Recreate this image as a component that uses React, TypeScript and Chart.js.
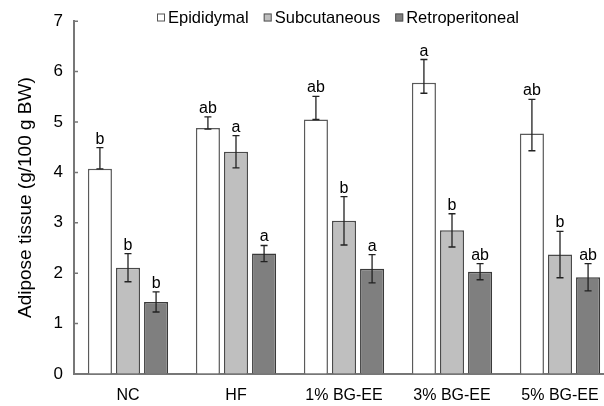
import React, { useEffect, useRef } from 'react';
import { Chart, registerables } from 'chart.js';

Chart.register(...registerables);

const FONT = '"Liberation Sans", Arial, Helvetica, sans-serif';

const categories = ['NC', 'HF', '1% BG-EE', '3% BG-EE', '5% BG-EE'];
const seriesNames = ['Epididymal', 'Subcutaneous', 'Retroperitoneal'];

const epididymal = [4.07, 4.88, 5.05, 5.78, 4.77];
const epididymalPlus = [0.42, 0.22, 0.46, 0.46, 0.68];
const epididymalMinus = [0.0, 0.02, 0.0, 0.21, 0.34];
const epididymalLetters = ['b', 'ab', 'ab', 'a', 'ab'];

const subcutaneous = [2.11, 4.41, 3.04, 2.85, 2.37];
const subcutaneousErr = [0.28, 0.32, 0.48, 0.33, 0.46];
const subcutaneousLetters = ['b', 'a', 'b', 'b', 'b'];

const retroperitoneal = [1.43, 2.39, 2.09, 2.03, 1.92];
const retroperitonealErr = [0.2, 0.16, 0.28, 0.16, 0.27];
const retroperitonealLetters = ['b', 'a', 'a', 'ab', 'ab'];

const yTicks = [0, 1, 2, 3, 4, 5, 6, 7];

const fills = ['#ffffff', '#bfbfbf', '#7f7f7f'];
const borders = ['#5a5a5a', '#4a4a4a', '#3a3a3a'];

export default function App() {
  const ref = useRef<HTMLCanvasElement>(null);

  useEffect(() => {
    document.body.style.margin = '0';
    document.body.style.overflow = 'hidden';
    if (!ref.current) return;

    const values = [epididymal, subcutaneous, retroperitoneal];
    const plus = [epididymalPlus, subcutaneousErr, retroperitonealErr];
    const minus = [epididymalMinus, subcutaneousErr, retroperitonealErr];
    const letters = [epididymalLetters, subcutaneousLetters, retroperitonealLetters];

    const extras = {
      id: 'extras',
      afterDatasetsDraw(chart: any) {
        const ctx = chart.ctx as CanvasRenderingContext2D;
        const y = chart.scales.y;
        const area = chart.chartArea;
        ctx.save();
        // error bars and letters
        chart.data.datasets.forEach((_ds: any, di: number) => {
          const meta = chart.getDatasetMeta(di);
          meta.data.forEach((bar: any, i: number) => {
            const v = values[di][i];
            const top = y.getPixelForValue(v + plus[di][i]);
            const bot = y.getPixelForValue(v - minus[di][i]);
            const x = bar.x;
            ctx.strokeStyle = '#222';
            ctx.lineWidth = 1.3;
            ctx.beginPath();
            ctx.moveTo(x, top);
            ctx.lineTo(x, bot);
            ctx.moveTo(x - 3.5, top);
            ctx.lineTo(x + 3.5, top);
            ctx.moveTo(x - 3.5, bot);
            ctx.lineTo(x + 3.5, bot);
            ctx.stroke();
            ctx.fillStyle = '#000';
            ctx.font = `16px ${FONT}`;
            ctx.textAlign = 'center';
            ctx.textBaseline = 'alphabetic';
            ctx.fillText(letters[di][i], x, top - 4);
          });
        });
        // inside tick marks on y axis
        ctx.strokeStyle = '#777';
        ctx.lineWidth = 1.5;
        ctx.beginPath();
        yTicks.forEach((t) => {
          const py = y.getPixelForValue(t);
          ctx.moveTo(area.left, py);
          ctx.lineTo(area.left + 4, py);
        });
        ctx.stroke();
        // legend
        ctx.font = `16.5px ${FONT}`;
        ctx.textAlign = 'left';
        ctx.textBaseline = 'middle';
        let lx = 157;
        const ly = 18;
        seriesNames.forEach((name, di) => {
          ctx.fillStyle = fills[di];
          ctx.fillRect(lx, ly - 4.5, 8, 8);
          ctx.strokeStyle = '#555';
          ctx.lineWidth = 1;
          ctx.strokeRect(lx + 0.5, ly - 4, 7, 7);
          ctx.fillStyle = '#000';
          ctx.fillText(name, lx + 11, ly);
          lx += 11 + ctx.measureText(name).width + 15;
        });
        ctx.restore();
      },
    };

    const chart = new Chart(ref.current, {
      type: 'bar',
      data: {
        labels: categories,
        datasets: [
          {
            label: seriesNames[0],
            data: epididymal,
            backgroundColor: fills[0],
            borderColor: borders[0],
            borderWidth: 1.5,
          },
          {
            label: seriesNames[1],
            data: subcutaneous,
            backgroundColor: fills[1],
            borderColor: borders[1],
            borderWidth: 1.5,
          },
          {
            label: seriesNames[2],
            data: retroperitoneal,
            backgroundColor: fills[2],
            borderColor: borders[2],
            borderWidth: 1.5,
          },
        ],
      },
      options: {
        animation: false,
        responsive: true,
        maintainAspectRatio: false,
        layout: { padding: { top: 16, right: 6, left: 0, bottom: 0 } },
        plugins: {
          legend: { display: false },
          tooltip: { enabled: false },
        },
        datasets: {
          bar: { categoryPercentage: 0.78, barPercentage: 0.857 },
        },
        scales: {
          x: {
            grid: { display: true, drawOnChartArea: false, drawTicks: false },
            border: { display: true, color: '#777', width: 2 },
            ticks: { color: '#000', font: { family: FONT, size: 16 }, padding: 12, maxRotation: 0 },
            afterFit: (s: any) => {
              s.height = 32;
            },
          },
          y: {
            min: 0,
            max: 7,
            grid: { display: true, drawOnChartArea: false, drawTicks: false },
            border: { display: true, color: '#777', width: 2 },
            ticks: { stepSize: 1, color: '#000', font: { family: FONT, size: 17 }, padding: 11 },
            title: {
              display: true,
              text: 'Adipose tissue (g/100 g BW)',
              color: '#000',
              font: { family: FONT, size: 19 },
              padding: { top: 14, bottom: 0 },
            },
            afterFit: (s: any) => {
              s.width = 74;
            },
          },
        },
      },
      plugins: [extras],
    });
    return () => chart.destroy();
  }, []);

  return (
    <div style={{ position: 'fixed', left: 0, top: 0, width: 604, height: 406, overflow: 'hidden', background: '#fff' }}>
      <div style={{ position: 'relative', width: 620, height: 406 }}>
        <canvas ref={ref} />
      </div>
    </div>
  );
}
